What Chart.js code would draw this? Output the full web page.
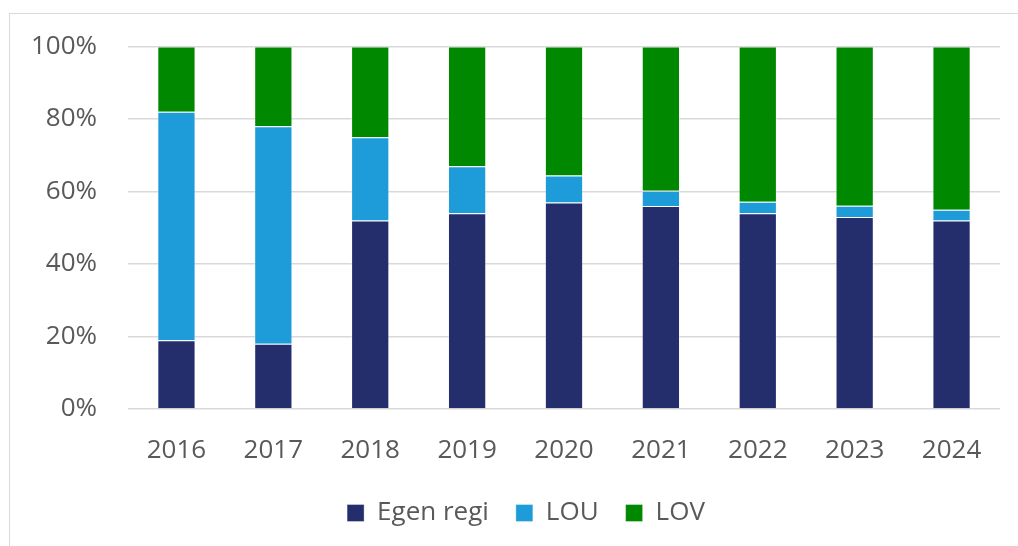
<!DOCTYPE html>
<html>
<head>
<meta charset="utf-8">
<script src="https://cdn.jsdelivr.net/npm/chart.js@4"></script>
<style>
html,body{margin:0;padding:0;background:#fff;overflow:hidden;}
#wrap{position:relative;width:1018px;height:546px;}
</style>
</head>
<body>
<div id="wrap"><canvas id="c" width="1018" height="546"></canvas></div>
<script>
const categories = ['2016','2017','2018','2019','2020','2021','2022','2023','2024'];
const egenRegi = [19, 18, 52, 54, 57, 56, 54, 53, 52];
const lou = [63, 60, 23, 13, 7.4, 4.2, 3.2, 3.1, 3];
const lov = [18, 22, 25, 33, 35.6, 39.8, 42.8, 43.9, 45];
const yTicks = [0, 20, 40, 60, 80, 100];

const FONT = "'Open Sans', 'DejaVu Sans', sans-serif";
const TXT = '#595959';

const frame = {
  id: 'frame',
  beforeDraw(chart) {
    const ctx = chart.ctx;
    ctx.save();
    ctx.strokeStyle = '#d9d9d9';
    ctx.lineWidth = 1;
    ctx.strokeRect(9.5, 13.5, 1100, 700);
    ctx.restore();
  }
};

const legendShift = {
  id: 'legendShift',
  afterLayout(chart) {
    const lg = chart.legend;
    if (lg) { lg.left += 26; lg.right += 26; }
  }
};

new Chart(document.getElementById('c'), {
  type: 'bar',
  data: {
    labels: categories,
    datasets: [
      {label: 'Egen regi', data: egenRegi, backgroundColor: '#252E6C', borderColor: 'rgba(255,255,255,0.35)', borderWidth: 1},
      {label: 'LOU', data: lou, backgroundColor: '#1E9CD9', borderColor: 'rgba(255,255,255,0.35)', borderWidth: 1},
      {label: 'LOV', data: lov, backgroundColor: '#008800', borderColor: 'rgba(255,255,255,0.35)', borderWidth: 1}
    ]
  },
  options: {
    responsive: false,
    animation: false,
    layout: {padding: {left: 0, right: 18, top: 46, bottom: 10}},
    datasets: {bar: {barPercentage: 0.395, categoryPercentage: 1}},
    plugins: {
      tooltip: {enabled: false},
      legend: {
        position: 'bottom',
        labels: {
          boxWidth: 17, boxHeight: 17, padding: 27, color: TXT,
          font: {family: FONT, size: 26}
        }
      }
    },
    scales: {
      x: {
        stacked: true,
        grid: {display: false, drawTicks: false},
        border: {display: false},
        ticks: {color: TXT, font: {family: FONT, size: 26}, padding: 26, maxRotation: 0},
        afterFit(s) { s.height = 64; }
      },
      y: {
        stacked: true,
        min: 0, max: 100,
        afterBuildTicks(s) { s.ticks = yTicks.map(v => ({value: v})); },
        grid: {color: '#d9d9d9', lineWidth: 1.5, drawTicks: false},
        border: {display: false},
        ticks: {color: TXT, font: {family: FONT, size: 26}, padding: 31, callback: v => v + '%'},
        afterFit(s) { s.width = 128; }
      }
    }
  },
  plugins: [frame, legendShift]
});
</script>
</body>
</html>
